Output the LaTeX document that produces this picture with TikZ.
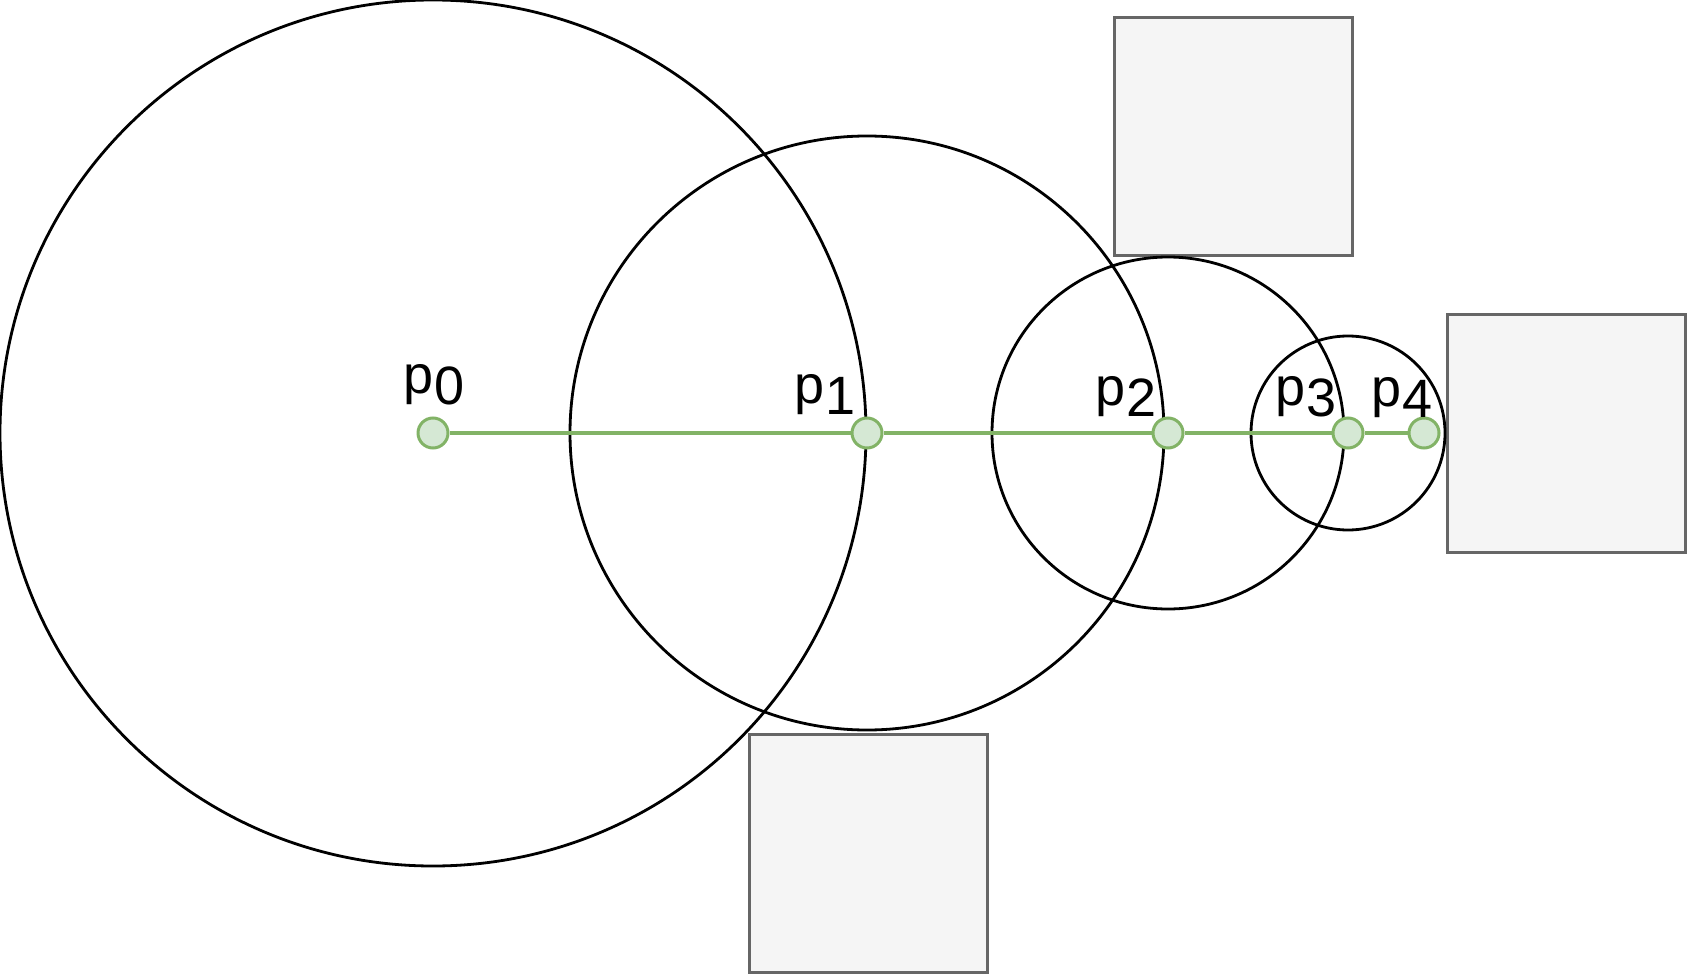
\documentclass[tikz,border=0pt]{standalone}
\usepackage{fontspec}
\setmainfont{Liberation Sans}

\definecolor{dotfill}{HTML}{D5E8D4}
\definecolor{dotline}{HTML}{82B366}
\definecolor{boxfill}{HTML}{F5F5F5}
\definecolor{boxline}{HTML}{666666}

\newcommand{\plabel}[1]{p\raisebox{-0.2em}{#1}}

\begin{document}
\begin{tikzpicture}[x=0.5pt, y=-0.5pt,
    dot/.style={circle, draw=dotline, fill=dotfill, line width=1.5pt, minimum size=15pt, inner sep=0pt},
    ring/.style={draw=black, line width=1.4pt},
    link/.style={draw=dotline, line width=1.6pt},
    wall/.style={draw=boxline, fill=boxfill, line width=1.5pt, minimum size=119pt, inner sep=0pt},
    lbl/.style={anchor=south, inner sep=0pt, font=\fontsize{27}{32}\selectfont}]

    \useasboundingbox (0,0) rectangle (1689,978);

    % Obstacles
    \node [wall] (wallTop) at (1233.5,137) {};
    \node [wall] (wallRight) at (1566.5,433.5) {};
    \node [wall] (wallBottom) at (868,853) {};

    % Centres
    \coordinate (c0) at (433,433);
    \coordinate (c1) at (867,433);
    \coordinate (c2) at (1168,433);
    \coordinate (c3) at (1348,433);
    \coordinate (c4) at (1424,433);

    % Circles
    \draw[ring] (c0) circle[radius=433];
    \draw[ring] (c1) circle[radius=297];
    \draw[ring] (c2) circle[radius=176];
    \draw[ring] (c3) circle[radius=97];

    % Points
    \node [dot] (p0) at (c0) {};
    \node [dot] (p1) at (c1) {};
    \node [dot] (p2) at (c2) {};
    \node [dot] (p3) at (c3) {};
    \node [dot] (p4) at (c4) {};

    % Labels
    \node [lbl] (l0) at (434,405) {\plabel{0}};
    \node [lbl] (l1) at (825,415) {\plabel{1}};
    \node [lbl] (l2) at (1126,417) {\plabel{2}};
    \node [lbl] (l3) at (1306,417) {\plabel{3}};
    \node [lbl] (l4) at (1402,418) {\plabel{4}};

    % Path
    \draw[link] (p0) -- (p1);
    \draw[link] (p1) -- (p2);
    \draw[link] (p2) -- (p3);
    \draw[link] (p3) -- (p4);

\end{tikzpicture}
\end{document}
